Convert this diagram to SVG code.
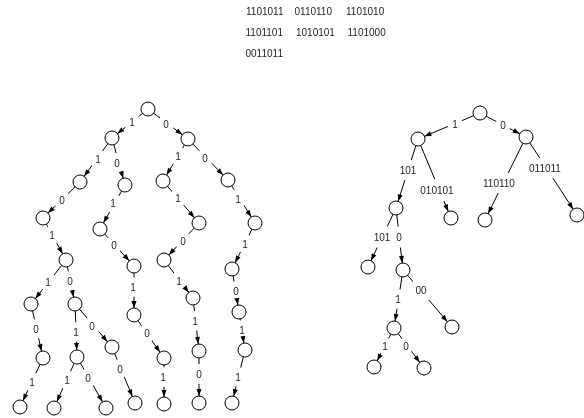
<svg xmlns="http://www.w3.org/2000/svg" width="584" height="418" viewBox="0 0 584 418">
<style>
.t{font-family:"Liberation Sans",Arial,Helvetica,sans-serif;font-size:10px;fill:#222;text-anchor:middle}
.h{font-family:"Liberation Sans",Arial,Helvetica,sans-serif;font-size:10px;fill:#222}
.ln line{stroke:#000;stroke-width:1}
.ar line{stroke:none;marker-end:url(#arr)}
circle{fill:#fff;stroke:#000;stroke-width:1}
#header,#edge-labels{opacity:0.99}
</style>
<defs>
<marker id="arr" markerUnits="userSpaceOnUse" markerWidth="14" markerHeight="6" refX="14" refY="2.5" orient="auto" overflow="visible">
<path d="M0,0 L7,2.5 L0,5 Z" fill="#000"/>
</marker>
<mask id="lm" maskUnits="userSpaceOnUse" x="0" y="0" width="584" height="418">
<rect x="0" y="0" width="584" height="418" fill="#fff"/>
<g fill="#000">
<ellipse cx="132" cy="122" rx="8" ry="10"/>
<ellipse cx="166" cy="124" rx="8" ry="10"/>
<ellipse cx="98" cy="159" rx="8" ry="10"/>
<ellipse cx="117" cy="163" rx="8" ry="10"/>
<ellipse cx="178" cy="156" rx="8" ry="10"/>
<ellipse cx="205" cy="158" rx="8" ry="10"/>
<ellipse cx="62" cy="200" rx="8" ry="10"/>
<ellipse cx="113" cy="203" rx="8" ry="10"/>
<ellipse cx="178" cy="198" rx="8" ry="10"/>
<ellipse cx="238" cy="199" rx="8" ry="10"/>
<ellipse cx="52" cy="235" rx="8" ry="10"/>
<ellipse cx="114" cy="245" rx="8" ry="10"/>
<ellipse cx="183" cy="241" rx="8" ry="10"/>
<ellipse cx="245" cy="244" rx="8" ry="10"/>
<ellipse cx="48" cy="282" rx="8" ry="10"/>
<ellipse cx="70" cy="281" rx="8" ry="10"/>
<ellipse cx="133" cy="287" rx="8" ry="10"/>
<ellipse cx="179" cy="281" rx="8" ry="10"/>
<ellipse cx="236" cy="291" rx="8" ry="10"/>
<ellipse cx="36" cy="329" rx="8" ry="10"/>
<ellipse cx="76" cy="332" rx="8" ry="10"/>
<ellipse cx="92" cy="326" rx="8" ry="10"/>
<ellipse cx="147" cy="333" rx="8" ry="10"/>
<ellipse cx="195" cy="321" rx="8" ry="10"/>
<ellipse cx="242" cy="330" rx="8" ry="10"/>
<ellipse cx="32" cy="382" rx="8" ry="10"/>
<ellipse cx="67" cy="380" rx="8" ry="10"/>
<ellipse cx="88" cy="378" rx="8" ry="10"/>
<ellipse cx="120" cy="369" rx="8" ry="10"/>
<ellipse cx="163" cy="377" rx="8" ry="10"/>
<ellipse cx="199" cy="374" rx="8" ry="10"/>
<ellipse cx="238" cy="377" rx="8" ry="10"/>
<ellipse cx="455" cy="124" rx="7.5" ry="9"/>
<ellipse cx="503" cy="125" rx="7.5" ry="9"/>
<rect x="397.5" y="160" width="21" height="20"/>
<rect x="418.5" y="179" width="37" height="22"/>
<rect x="480.5" y="173" width="37" height="20"/>
<rect x="526.5" y="158" width="37" height="20"/>
<rect x="371.5" y="226.5" width="21" height="21"/>
<rect x="394" y="226.5" width="10" height="21"/>
<ellipse cx="398" cy="299" rx="7.5" ry="10"/>
<rect x="413" y="280" width="16" height="20"/>
<ellipse cx="385" cy="346" rx="7" ry="9"/>
<ellipse cx="406" cy="346" rx="7" ry="9"/>
</g>
</mask>
</defs>
<rect x="0" y="0" width="584" height="418" fill="#fff"/>
<g id="header">
<text class="h" x="246" y="15">1101011</text>
<text class="h" x="294.5" y="15">0110110</text>
<text class="h" x="346" y="15">1101010</text>
<text class="h" x="245.5" y="36">1101101</text>
<text class="h" x="296" y="36">1010101</text>
<text class="h" x="347.5" y="36">1101000</text>
<text class="h" x="245.5" y="57">0011011</text>
</g>
<g id="connectors">
<g class="ln" mask="url(#lm)">
<line x1="148" y1="109" x2="112" y2="138"/>
<line x1="148" y1="109" x2="188" y2="139"/>
<line x1="112" y1="138" x2="80" y2="182"/>
<line x1="112" y1="138" x2="125" y2="185"/>
<line x1="188" y1="139" x2="163" y2="181"/>
<line x1="188" y1="139" x2="228" y2="180"/>
<line x1="80" y1="182" x2="43" y2="218"/>
<line x1="125" y1="185" x2="100" y2="229"/>
<line x1="163" y1="181" x2="199" y2="223"/>
<line x1="228" y1="180" x2="255" y2="223"/>
<line x1="43" y1="218" x2="66" y2="260"/>
<line x1="100" y1="229" x2="134" y2="266"/>
<line x1="199" y1="223" x2="164" y2="260"/>
<line x1="255" y1="223" x2="232" y2="269"/>
<line x1="66" y1="260" x2="31" y2="304"/>
<line x1="66" y1="260" x2="75" y2="304"/>
<line x1="134" y1="266" x2="134" y2="315"/>
<line x1="164" y1="260" x2="193" y2="298"/>
<line x1="232" y1="269" x2="239" y2="312"/>
<line x1="31" y1="304" x2="43" y2="358"/>
<line x1="75" y1="304" x2="77" y2="357"/>
<line x1="75" y1="304" x2="112" y2="347"/>
<line x1="134" y1="315" x2="164" y2="358"/>
<line x1="193" y1="298" x2="199" y2="351"/>
<line x1="239" y1="312" x2="245" y2="350"/>
<line x1="43" y1="358" x2="20" y2="407"/>
<line x1="77" y1="357" x2="54" y2="408"/>
<line x1="77" y1="357" x2="106" y2="408"/>
<line x1="112" y1="347" x2="135" y2="403"/>
<line x1="164" y1="358" x2="164" y2="404"/>
<line x1="199" y1="351" x2="199" y2="403"/>
<line x1="245" y1="350" x2="232" y2="403"/>
<line x1="480" y1="113" x2="418" y2="139"/>
<line x1="480" y1="113" x2="526" y2="137"/>
<line x1="418" y1="139" x2="396" y2="208"/>
<line x1="418" y1="139" x2="451" y2="218"/>
<line x1="526" y1="137" x2="485" y2="220"/>
<line x1="526" y1="137" x2="577" y2="215"/>
<line x1="396" y1="208" x2="368" y2="267"/>
<line x1="396" y1="208" x2="403" y2="270"/>
<line x1="403" y1="270" x2="394" y2="328"/>
<line x1="403" y1="270" x2="452" y2="327"/>
<line x1="394" y1="328" x2="374" y2="367"/>
<line x1="394" y1="328" x2="424" y2="368"/>
</g>
<g class="ar">
<line x1="148" y1="109" x2="112" y2="138"/>
<line x1="148" y1="109" x2="188" y2="139"/>
<line x1="112" y1="138" x2="80" y2="182"/>
<line x1="112" y1="138" x2="125" y2="185"/>
<line x1="188" y1="139" x2="163" y2="181"/>
<line x1="188" y1="139" x2="228" y2="180"/>
<line x1="80" y1="182" x2="43" y2="218"/>
<line x1="125" y1="185" x2="100" y2="229"/>
<line x1="163" y1="181" x2="199" y2="223"/>
<line x1="228" y1="180" x2="255" y2="223"/>
<line x1="43" y1="218" x2="66" y2="260"/>
<line x1="100" y1="229" x2="134" y2="266"/>
<line x1="199" y1="223" x2="164" y2="260"/>
<line x1="255" y1="223" x2="232" y2="269"/>
<line x1="66" y1="260" x2="31" y2="304"/>
<line x1="66" y1="260" x2="75" y2="304"/>
<line x1="134" y1="266" x2="134" y2="315"/>
<line x1="164" y1="260" x2="193" y2="298"/>
<line x1="232" y1="269" x2="239" y2="312"/>
<line x1="31" y1="304" x2="43" y2="358"/>
<line x1="75" y1="304" x2="77" y2="357"/>
<line x1="75" y1="304" x2="112" y2="347"/>
<line x1="134" y1="315" x2="164" y2="358"/>
<line x1="193" y1="298" x2="199" y2="351"/>
<line x1="239" y1="312" x2="245" y2="350"/>
<line x1="43" y1="358" x2="20" y2="407"/>
<line x1="77" y1="357" x2="54" y2="408"/>
<line x1="77" y1="357" x2="106" y2="408"/>
<line x1="112" y1="347" x2="135" y2="403"/>
<line x1="164" y1="358" x2="164" y2="404"/>
<line x1="199" y1="351" x2="199" y2="403"/>
<line x1="245" y1="350" x2="232" y2="403"/>
<line x1="480" y1="113" x2="418" y2="139"/>
<line x1="480" y1="113" x2="526" y2="137"/>
<line x1="418" y1="139" x2="396" y2="208"/>
<line x1="418" y1="139" x2="451" y2="218"/>
<line x1="526" y1="137" x2="485" y2="220"/>
<line x1="526" y1="137" x2="577" y2="215"/>
<line x1="396" y1="208" x2="368" y2="267"/>
<line x1="396" y1="208" x2="403" y2="270"/>
<line x1="403" y1="270" x2="394" y2="328"/>
<line x1="403" y1="270" x2="452" y2="327"/>
<line x1="394" y1="328" x2="374" y2="367"/>
<line x1="394" y1="328" x2="424" y2="368"/>
</g>
<g id="edge-labels">
<text class="t" x="132" y="125.5">1</text>
<text class="t" x="166" y="127.5">0</text>
<text class="t" x="98" y="162.5">1</text>
<text class="t" x="117" y="166.5">0</text>
<text class="t" x="178" y="159.5">1</text>
<text class="t" x="205" y="161.5">0</text>
<text class="t" x="62" y="203.5">0</text>
<text class="t" x="113" y="206.5">1</text>
<text class="t" x="178" y="201.5">1</text>
<text class="t" x="238" y="202.5">1</text>
<text class="t" x="52" y="238.5">1</text>
<text class="t" x="114" y="248.5">0</text>
<text class="t" x="183" y="244.5">0</text>
<text class="t" x="245" y="247.5">1</text>
<text class="t" x="48" y="285.5">1</text>
<text class="t" x="70" y="284.5">0</text>
<text class="t" x="133" y="290.5">1</text>
<text class="t" x="179" y="284.5">1</text>
<text class="t" x="236" y="294.5">0</text>
<text class="t" x="36" y="332.5">0</text>
<text class="t" x="76" y="335.5">1</text>
<text class="t" x="92" y="329.5">0</text>
<text class="t" x="147" y="336.5">0</text>
<text class="t" x="195" y="324.5">1</text>
<text class="t" x="242" y="333.5">1</text>
<text class="t" x="32" y="385.5">1</text>
<text class="t" x="67" y="383.5">1</text>
<text class="t" x="88" y="381.5">0</text>
<text class="t" x="120" y="372.5">0</text>
<text class="t" x="163" y="380.5">1</text>
<text class="t" x="199" y="377.5">0</text>
<text class="t" x="238" y="380.5">1</text>
<text class="t" x="455" y="127.5">1</text>
<text class="t" x="503" y="128.5">0</text>
<text class="t" x="408" y="173.5">101</text>
<text class="t" x="437" y="193.5">010101</text>
<text class="t" x="499" y="186.5">110110</text>
<text class="t" x="545" y="171.5">011011</text>
<text class="t" x="382" y="240.5">101</text>
<text class="t" x="399" y="240.5">0</text>
<text class="t" x="398" y="302.5">1</text>
<text class="t" x="421" y="293.5">00</text>
<text class="t" x="385" y="349.5">1</text>
<text class="t" x="406" y="349.5">0</text>
</g>
</g>
<g id="n0"><circle cx="148" cy="109" r="7"/></g>
<g id="n1"><circle cx="112" cy="138" r="7"/></g>
<g id="n2"><circle cx="188" cy="139" r="7"/></g>
<g id="n3"><circle cx="80" cy="182" r="7"/></g>
<g id="n4"><circle cx="125" cy="185" r="7"/></g>
<g id="n5"><circle cx="163" cy="181" r="7"/></g>
<g id="n6"><circle cx="228" cy="180" r="7"/></g>
<g id="n7"><circle cx="43" cy="218" r="7"/></g>
<g id="n8"><circle cx="100" cy="229" r="7"/></g>
<g id="n9"><circle cx="199" cy="223" r="7"/></g>
<g id="n10"><circle cx="255" cy="223" r="7"/></g>
<g id="n11"><circle cx="66" cy="260" r="7"/></g>
<g id="n12"><circle cx="134" cy="266" r="7"/></g>
<g id="n13"><circle cx="164" cy="260" r="7"/></g>
<g id="n14"><circle cx="232" cy="269" r="7"/></g>
<g id="n15"><circle cx="31" cy="304" r="7"/></g>
<g id="n16"><circle cx="75" cy="304" r="7"/></g>
<g id="n17"><circle cx="134" cy="315" r="7"/></g>
<g id="n18"><circle cx="193" cy="298" r="7"/></g>
<g id="n19"><circle cx="239" cy="312" r="7"/></g>
<g id="n20"><circle cx="43" cy="358" r="7"/></g>
<g id="n21"><circle cx="77" cy="357" r="7"/></g>
<g id="n22"><circle cx="112" cy="347" r="7"/></g>
<g id="n23"><circle cx="164" cy="358" r="7"/></g>
<g id="n24"><circle cx="199" cy="351" r="7"/></g>
<g id="n25"><circle cx="245" cy="350" r="7"/></g>
<g id="n26"><circle cx="20" cy="407" r="7"/></g>
<g id="n27"><circle cx="54" cy="408" r="7"/></g>
<g id="n28"><circle cx="106" cy="408" r="7"/></g>
<g id="n29"><circle cx="135" cy="403" r="7"/></g>
<g id="n30"><circle cx="164" cy="404" r="7"/></g>
<g id="n31"><circle cx="199" cy="403" r="7"/></g>
<g id="n32"><circle cx="232" cy="403" r="7"/></g>
<g id="r0"><circle cx="480" cy="113" r="7"/></g>
<g id="r1"><circle cx="418" cy="139" r="7"/></g>
<g id="r2"><circle cx="526" cy="137" r="7"/></g>
<g id="r3"><circle cx="396" cy="208" r="7"/></g>
<g id="r4"><circle cx="451" cy="218" r="7"/></g>
<g id="r5"><circle cx="485" cy="220" r="7"/></g>
<g id="r6"><circle cx="577" cy="215" r="7"/></g>
<g id="r7"><circle cx="368" cy="267" r="7"/></g>
<g id="r8"><circle cx="403" cy="270" r="7"/></g>
<g id="r9"><circle cx="394" cy="328" r="7"/></g>
<g id="r10"><circle cx="452" cy="327" r="7"/></g>
<g id="r11"><circle cx="374" cy="367" r="7"/></g>
<g id="r12"><circle cx="424" cy="368" r="7"/></g>
</svg>
